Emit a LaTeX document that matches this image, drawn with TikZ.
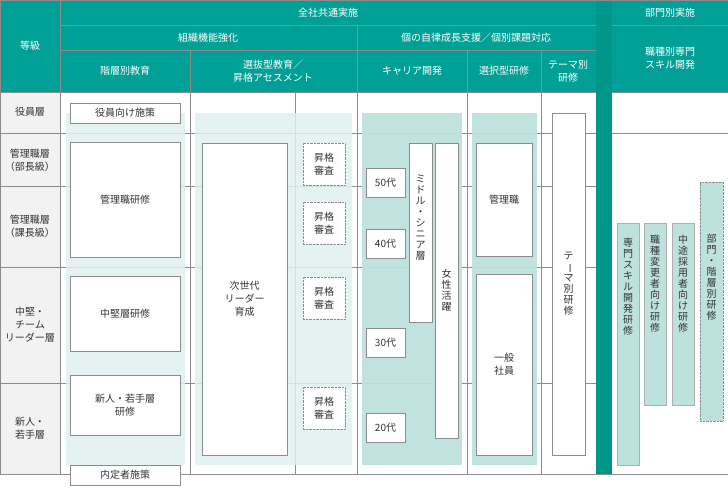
\documentclass[tikz,border=0pt]{standalone}
\usepackage{fontspec}
\setmainfont{Noto Sans CJK JP}
\usetikzlibrary{positioning}
\definecolor{hdteal}{HTML}{00A096}
\definecolor{bandteal}{HTML}{00968A}
\definecolor{palepanel}{HTML}{DFF0EE}
\definecolor{midpanel}{HTML}{BDE1DD}
\definecolor{gridgray}{HTML}{8C8C8C}
\definecolor{rowgray}{HTML}{F2F2F2}
\newcommand{\vbar}{\rotatebox[origin=c]{-90}{ー}}
\tikzset{
  hdtext/.style={text=white,font=\fontsize{10}{13}\selectfont,align=center},
  rowtext/.style={font=\fontsize{10}{13}\selectfont,align=center,text=black!80},
  wbox/.style={draw=gridgray,fill=white,font=\fontsize{10}{13}\selectfont,align=center,text=black!80},
  exambox/.style={draw=gridgray,densely dotted,fill=white,font=\fontsize{10}{13}\selectfont,align=center,text=black!80},
  vtext/.style={font=\fontsize{10}{11}\selectfont,align=center,text=black!80,inner sep=0pt}
}
\begin{document}
\begin{tikzpicture}[x=1pt,y=-1pt]
    \useasboundingbox (0,0) rectangle (728,490);
    % header
    \fill[hdteal] (0,0) rectangle (596,92);
    \fill[hdteal] (612,0) rectangle (728,92);
    \fill[rowgray] (0,92) rectangle (60,474);
    \fill[bandteal] (596,0) rectangle (612,474);
    \draw[gridgray] (60,0) -- (60,92);
    \draw[gridgray] (60,25) -- (596,25) (60,50) -- (596,50);
    \draw[gridgray] (612,25) -- (728,25);
    \foreach \cx in {190,357,467,541} \draw[gridgray] (\cx,50) -- (\cx,92);
    \draw[gridgray] (357,25) -- (357,50);
    \node[hdtext] (hdgrade) at (30,46) {等級};
    \node[hdtext] (hdall) at (328,13) {全社共通実施};
    \node[hdtext] (hdorg) at (208,38) {組織機能強化};
    \node[hdtext] (hdself) at (476,38) {個の自律成長支援／個別課題対応};
    \node[hdtext] (hdlayer) at (125,71) {階層別教育};
    \node[hdtext] (hdselect) at (273,71) {選抜型教育／\\昇格アセスメント};
    \node[hdtext] (hdcareer) at (412,71) {キャリア開発};
    \node[hdtext] (hdchoice) at (504,71) {選択型研修};
    \node[hdtext] (hdtheme) at (568,71) {テーマ別\\研修};
    \node[hdtext] (hddept) at (670,13) {部門別実施};
    \node[hdtext] (hdskill) at (670,58) {職種別専門\\スキル開発};
    % grid
    \draw[gridgray] (0,92) -- (596,92) (612,92) -- (728,92);
    \foreach \ry in {133,186,267,383} \draw[gridgray] (0,\ry) -- (596,\ry);
    \draw[gridgray] (612,133) -- (728,133);
    \draw[gridgray] (0,474) -- (728,474);
    \foreach \cx in {60,190,357,467,541} \draw[gridgray] (\cx,92) -- (\cx,474);
    \draw[gridgray] (295,92) -- (295,474);
    \draw[gridgray] (0,0) rectangle (728,474);
    % rows
    \node[rowtext] (rexec) at (30,112) {役員層};
    \node[rowtext] (rbu) at (30,160) {管理職層\\（部長級）};
    \node[rowtext] (rka) at (30,226) {管理職層\\（課長級）};
    \node[rowtext] (rmid) at (30,325) {中堅・\\チーム\\リーダー層};
    \node[rowtext] (rnew) at (30,428) {新人・\\若手層};
    % panels
    \fill[palepanel,opacity=0.85] (66,113) rectangle (185,465);
    \fill[palepanel,opacity=0.85] (195,113) rectangle (352,465);
    \fill[midpanel,opacity=0.95] (362,113) rectangle (462,465);
    \fill[midpanel,opacity=0.95] (472,113) rectangle (537,465);
    % layered education
    \node[wbox,minimum width=110,minimum height=20] (exec) at (125,113) {役員向け施策};
    \node[wbox,minimum width=110,minimum height=115] (mgr) at (125,200) {管理職研修};
    \node[wbox,minimum width=110,minimum height=75] (mid) at (125,314) {中堅層研修};
    \node[wbox,minimum width=110,minimum height=60] (newc) at (125,405) {新人・若手層\\研修};
    \node[wbox,minimum width=110,minimum height=20] (pre) at (125,475) {内定者施策};
    % selection
    \node[wbox,minimum width=85,minimum height=312] (next) at (244.5,299) {次世代\\リーダー\\育成};
    \foreach \ey/\en in {164/a,223/b,298/c,408/d}
      \node[exambox,minimum width=42,minimum height=42] (exam\en) at (324,\ey) {昇格\\審査};
    % career
    \node[wbox,minimum width=39,minimum height=29] (age50) at (385.5,183) {50代};
    \node[wbox,minimum width=39,minimum height=29] (age40) at (385.5,243.5) {40代};
    \node[wbox,minimum width=39,minimum height=29] (age30) at (385.5,342.5) {30代};
    \node[wbox,minimum width=39,minimum height=29] (age20) at (385.5,428) {20代};
    \node[wbox,minimum width=23,minimum height=179] (senior) at (420.5,232.5) {};
    \node[vtext,anchor=north] at (senior.north) [yshift=-32] {ミ\\ド\\ル\\・\\シ\\ニ\\ア\\層};
    \node[wbox,minimum width=23,minimum height=295] (women) at (446.5,290.5) {};
    \node[vtext] at (women.center) {女\\性\\活\\躍};
    % choice
    \node[wbox,minimum width=56,minimum height=113] (chmgr) at (504,199.5) {管理職};
    \node[wbox,minimum width=56,minimum height=181] (chstaff) at (504,364.5) {一般\\社員};
    \node[wbox,minimum width=33,minimum height=342] (theme) at (568.5,284) {};
    \node[vtext] at (theme.center) {テ\\\vbar\\マ\\別\\研\\修};
    % department
    \node[wbox,draw=gridgray!70,fill=midpanel,minimum width=22,minimum height=242] (spec) at (628,344) {};
    \node[vtext,anchor=north] at ([yshift=-15]spec.north) {専\\門\\ス\\キ\\ル\\開\\発\\研\\修};
    \node[wbox,draw=gridgray!70,fill=midpanel,minimum width=22,minimum height=182] (chg) at (655,314) {};
    \node[vtext,anchor=north] at ([yshift=-12]chg.north) {職\\種\\変\\更\\者\\向\\け\\研\\修};
    \node[wbox,draw=gridgray!70,fill=midpanel,minimum width=22,minimum height=182] (mc) at (683,314) {};
    \node[vtext,anchor=north] at ([yshift=-12]mc.north) {中\\途\\採\\用\\者\\向\\け\\研\\修};
    \node[exambox,fill=midpanel,minimum width=23,minimum height=239] (deptl) at (711.5,301.5) {};
    \node[vtext,anchor=north] at ([yshift=-52]deptl.north) {部\\門\\・\\階\\層\\別\\研\\修};
\end{tikzpicture}
\end{document}
